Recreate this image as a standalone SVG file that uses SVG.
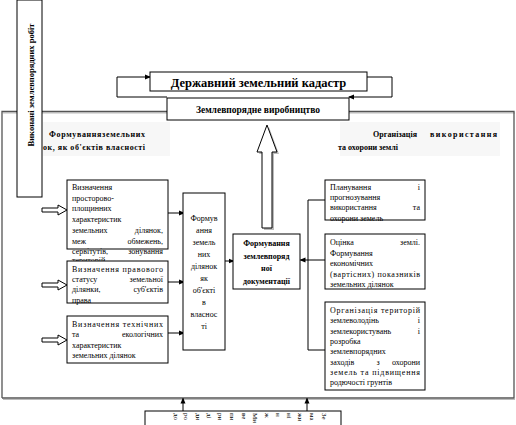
<svg xmlns="http://www.w3.org/2000/svg" width="516" height="425" viewBox="0 0 516 425">
<style>
text{font-family:"Liberation Serif","Times New Roman",serif;fill:#000}
.t{font-size:8px}
.b{font-weight:bold}
.box{fill:#fff;stroke:#000;stroke-width:1}
.ln{fill:none;stroke:#000;stroke-width:1}
.fr{fill:none;stroke:#555;stroke-width:1.3}
.sh{fill:none;stroke:#bbb;stroke-width:1}
.m{text-anchor:middle}
.e{text-anchor:end}
.v{font-size:7px}
</style>
<defs>
<marker id="ah" markerWidth="6" markerHeight="6" refX="5" refY="3" orient="auto" markerUnits="userSpaceOnUse">
<path d="M0,0.5 L6,3 L0,5.5 Z" fill="#000"/>
</marker>
<path id="hollow" d="M0,-2 H16 V-5 L25,0 L16,5 V2 H0 Z" fill="#fff" stroke="#000" stroke-width="1"/>
</defs>

<rect width="516" height="425" fill="#fff"/>

<!-- outer frame -->
<g id="frame">
<path class="sh" d="M3,113 H167 M349,113 H515 M3,399.5 H515"/>
<path class="fr" d="M2,398 V111.5 H167 M349,111.5 H514 V398 H2"/>
</g>

<!-- title backgrounds -->
<rect x="43" y="122" width="127" height="34" fill="#f7f7f7"/>
<rect x="340" y="122" width="160" height="34" fill="#f7f7f7"/>

<g id="title-left">
<text class="t b" x="49" y="137" textLength="96" lengthAdjust="spacing">Формуванняземельних</text>
<text class="t b" x="43" y="149.5" textLength="102" lengthAdjust="spacing">ок, як об'єктів власності</text>
</g>
<g id="title-right">
<text class="t b" x="373" y="137" textLength="44" lengthAdjust="spacing">Організація</text>
<text class="t b" x="430" y="137" textLength="67" lengthAdjust="spacing">використання</text>
<text class="t b" x="338" y="150" textLength="60" lengthAdjust="spacing">та охорони землі</text>
</g>

<!-- connectors -->
<g id="connectors">
<path class="ln" d="M167,97 H117 V77 H150" marker-end="url(#ah)"/>
<path class="ln" d="M367,77 H392 V97 H349" marker-end="url(#ah)"/>
<path class="ln" d="M168,213 H184" marker-end="url(#ah)"/>
<path class="ln" d="M168,282 H184" marker-end="url(#ah)"/>
<path class="ln" d="M168,333 H184" marker-end="url(#ah)"/>
<path class="ln" d="M225,261 H233.5" marker-end="url(#ah)"/>
<path class="ln" d="M325,200 H308 V350 H325"/>
<path class="ln" d="M325,260 H300.5" marker-end="url(#ah)"/>
<path class="ln" d="M183,411 V398.5" marker-end="url(#ah)"/>
<path class="ln" d="M307,411 V398.5" marker-end="url(#ah)"/>
<use href="#hollow" x="42" y="210"/>
<use href="#hollow" x="42" y="285"/>
<use href="#hollow" x="42" y="340"/>
<polygon points="269,127 279,154 274,154 274,230 264,230 264,154 259,154" fill="#bbb"/>
<polygon points="267,125 277,152 272,152 272,228 262,228 262,152 257,152" fill="#fff" stroke="#000" stroke-width="1"/>
</g>

<!-- vertical left box -->
<g id="n-vykonani">
<rect class="box" x="17" y="0" width="25" height="197"/>
<text class="b m" style="font-size:8.5px" transform="translate(33.5,85) rotate(-90)">Виконані землевпорядних робіт</text>
</g>

<g id="n-kadastr">
<rect class="box" x="150" y="72" width="217" height="19"/>
<text class="b m" style="font-size:12.5px" x="258.5" y="86.5">Державний земельний кадастр</text>
</g>

<g id="n-vyrobnytstvo">
<rect class="box" x="167" y="98" width="182" height="22"/>
<text class="b m" style="font-size:9.5px" x="258" y="113">Землевпорядне виробництво</text>
</g>

<!-- left boxes -->
<g id="n-a">
<rect class="box" x="67" y="180" width="101" height="69"/>
<text class="t" x="72" y="190">Визначення</text>
<text class="t" x="72" y="200.7">просторово-</text>
<text class="t" x="72" y="211.4">площинних</text>
<text class="t" x="72" y="222.1">характеристик</text>
<text class="t" x="72" y="232.8">земельних</text><text class="t e" x="163" y="232.8">ділянок,</text>
<text class="t" x="72" y="243.5">меж</text><text class="t e" x="163" y="243.5">обмежень,</text>
<text class="t" x="72" y="254.2">сервітутів,</text><text class="t e" x="163" y="254.2">зонування</text>
<text class="t" x="72" y="263">територій</text>
</g>

<g id="n-b">
<rect class="box" x="67" y="261" width="101" height="42"/>
<text class="t" x="72" y="272" textLength="91" lengthAdjust="spacing">Визначення правового</text>
<text class="t" x="72" y="282">статусу</text><text class="t e" x="163" y="282">земельної</text>
<text class="t" x="72" y="292.2">ділянки,</text><text class="t e" x="163" y="292.2">суб'єктів</text>
<text class="t" x="72" y="302.5">права</text>
</g>

<g id="n-c">
<rect class="box" x="67" y="316" width="101" height="47"/>
<text class="t" x="72" y="327" textLength="91" lengthAdjust="spacing">Визначення технічних</text>
<text class="t" x="72" y="337.3">та</text><text class="t e" x="163" y="337.3">екологічних</text>
<text class="t" x="72" y="347.6">характеристик</text>
<text class="t" x="72" y="357.9">земельних ділянок</text>
</g>

<g id="n-tall">
<rect class="box" x="183" y="193" width="42" height="157"/>
<text class="t m" x="204" y="221">Формув</text>
<text class="t m" x="204" y="233">ання</text>
<text class="t m" x="204" y="245">земель</text>
<text class="t m" x="204" y="257">них</text>
<text class="t m" x="204" y="269">ділянок</text>
<text class="t m" x="204" y="281">як</text>
<text class="t m" x="204" y="293">об'єкті</text>
<text class="t m" x="204" y="305">в</text>
<text class="t m" x="204" y="317">власнос</text>
<text class="t m" x="204" y="329">ті</text>
</g>

<g id="n-center">
<rect class="box" x="233" y="234" width="67" height="55"/>
<text class="t b m" x="266.5" y="246">Формування</text>
<text class="t b m" x="266.5" y="258.5">землевпоряд</text>
<text class="t b m" x="266.5" y="271">ної</text>
<text class="t b m" x="266.5" y="283.5">документації</text>
</g>

<!-- right boxes -->
<g id="n-r1">
<rect class="box" x="325" y="180" width="100" height="40"/>
<text class="t" x="330" y="190">Планування</text><text class="t e" x="420" y="190">і</text>
<text class="t" x="330" y="200">прогнозування</text>
<text class="t" x="330" y="210">використання</text><text class="t e" x="420" y="210">та</text>
<text class="t" x="330" y="220.5">охорони земель</text>
</g>

<g id="n-r2">
<rect class="box" x="325" y="234" width="100" height="55"/>
<text class="t" x="330" y="245">Оцінка</text><text class="t e" x="420" y="245">землі.</text>
<text class="t" x="330" y="255.5">Формування</text>
<text class="t" x="330" y="266">економічних</text>
<text class="t" x="330" y="276.5" textLength="90" lengthAdjust="spacing">(вартісних) показників</text>
<text class="t" x="330" y="287">земельних ділянок</text>
</g>

<g id="n-r3">
<rect class="box" x="325" y="302" width="100" height="88"/>
<text class="t" x="330" y="313" textLength="90" lengthAdjust="spacing">Організація територій</text>
<text class="t" x="330" y="323.3">землеволодінь</text><text class="t e" x="420" y="323.3">і</text>
<text class="t" x="330" y="333.6">землекористувань</text><text class="t e" x="420" y="333.6">і</text>
<text class="t" x="330" y="343.9">розробка</text>
<text class="t" x="330" y="354.2">землевпорядних</text>
<text class="t" x="330" y="364.5">заходів</text><text class="t m" x="378" y="364.5">з</text><text class="t e" x="420" y="364.5">охорони</text>
<text class="t" x="330" y="374.8" textLength="90" lengthAdjust="spacing">земель та підвищення</text>
<text class="t" x="330" y="385.1">родючості грунтів</text>
</g>

<!-- bottom box -->
<g id="n-bottom">
<rect class="box" x="145" y="411" width="196" height="20"/>
<text class="v" transform="translate(174,413) rotate(90)">до</text>
<text class="v" transform="translate(184,413) rotate(90)">ро</text>
<text class="v" transform="translate(196,413) rotate(90)">ди</text>
<text class="v" transform="translate(207,413) rotate(90)">ді</text>
<text class="v" transform="translate(218,413) rotate(90)">ри</text>
<text class="v" transform="translate(230,413) rotate(90)">пи</text>
<text class="v" transform="translate(242,413) rotate(90)">ве</text>
<text class="v" transform="translate(253,413) rotate(90)">Ми</text>
<text class="v" transform="translate(265,413) rotate(90)">ж</text>
<text class="v" transform="translate(276,413) rotate(90)">н</text>
<text class="v" transform="translate(287,413) rotate(90)">ні</text>
<text class="v" transform="translate(298,413) rotate(90)">жи</text>
<text class="v" transform="translate(310,413) rotate(90)">ма</text>
<text class="v" transform="translate(322,413) rotate(90)">Зе</text>
</g>
</svg>
